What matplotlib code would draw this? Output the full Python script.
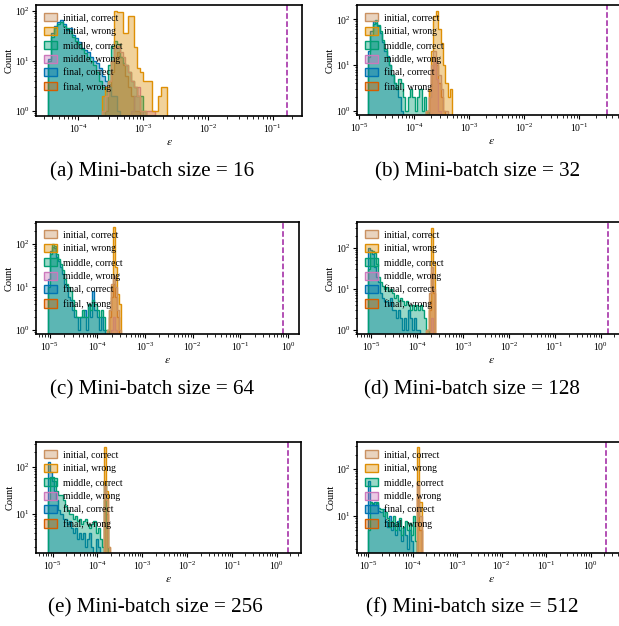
import numpy as np
import matplotlib.pyplot as plt
from matplotlib.patches import Patch

plt.rcParams['font.family'] = ['Liberation Serif', 'DejaVu Serif']
plt.rcParams['mathtext.fontset'] = 'stix'

labels = ['initial, correct', 'initial, wrong', 'middle, correct',
          'middle, wrong', 'final, correct', 'final, wrong']
colors = ['#ca9161', '#de8f05', '#029e73', '#cc78bc', '#0173b2', '#d55e00']
batch_sizes = [16, 32, 64, 128, 256, 512]

# log10 range of the bins and number of bins per panel
bin_lo = [-4.46, -4.84, -5.04, -5.07, -5.10, -5.00]
bin_hi = [-2.63, -3.31, -3.51, -3.62, -3.72, -3.80]
n_bins = [40, 36, 36, 33, 30, 26]

# dashed reference line per panel
ref_eps = [0.165, 0.32, 0.78, 1.44, 1.8, 2.2]

# (a) batch 16
a_init_correct = [0]*18 + [1, 2, 4, 10, 18, 20, 15, 12, 8, 6, 4, 3, 2, 1, 1] + [0]*7
a_init_wrong = [0]*18 + [2, 3, 4, 10, 100, 95, 95, 36, 36, 80, 80, 19, 7, 6, 4, 4, 4, 1, 1, 2, 3, 3]
a_mid_correct = [10, 30, 45, 55, 60, 50, 45, 40, 30, 25, 22, 17, 14, 12, 10, 8, 6, 4, 3, 3,
                 8, 20, 25, 22, 12, 9, 8, 6, 4, 3, 2, 2, 1] + [0]*7
a_mid_wrong = [0]*28 + [1, 2, 3, 1, 0, 1, 1, 1] + [0]*4
a_final_correct = [11, 35, 50, 60, 65, 55, 42, 45, 32, 28, 24, 18, 16, 15, 12, 10, 9, 7, 5, 4,
                   3, 2, 2, 1] + [0]*16
a_final_wrong = [0]*19 + [1, 3, 6, 12, 15, 12, 8, 5, 3, 2, 1, 1] + [0]*9

# (b) batch 32
b_init_correct = [0]*25 + [1, 2, 10, 20, 12, 6, 3, 1, 1] + [0]*2
b_init_wrong = [0]*25 + [1, 3, 20, 120, 150, 60, 30, 10, 4, 2, 3]
b_mid_correct = [15, 45, 80, 95, 75, 55, 35, 22, 15, 10, 6, 4, 3, 5, 4, 2, 1, 2, 3, 2,
                 1, 2, 3, 1, 2, 1] + [0]*10
b_mid_wrong = [0]*26 + [2, 8, 12, 5, 1] + [0]*5
b_final_correct = [20, 55, 90, 85, 70, 50, 32, 20, 16, 10, 6, 4, 3, 2, 1] + [0]*21
b_final_wrong = [0]*25 + [1, 3, 8, 15, 10, 4, 2, 1] + [0]*3

# (c) batch 64
c_init_correct = [0]*29 + [1, 3, 12, 18, 10, 3, 1]
c_init_wrong = [0]*29 + [1, 3, 10, 250, 30, 7, 4]
c_mid_correct = [10, 60, 100, 90, 60, 45, 35, 25, 15, 12, 10, 8, 5, 3, 2, 2, 2, 3, 2, 2,
                 4, 3, 5, 4, 3, 2, 3, 2, 1, 1] + [0]*6
c_mid_wrong = [0]*31 + [1, 2, 1] + [0]*2
c_final_correct = [15, 70, 85, 80, 50, 40, 30, 20, 12, 10, 6, 5, 3, 2, 2, 1, 2, 2, 3, 1,
                   4, 2, 8, 3, 2, 1, 2, 1] + [0]*8
c_final_wrong = [0]*30 + [2, 6, 12, 6, 2] + [0]

# (d) batch 128
d_init_correct = [0]*29 + [1, 8, 35, 10]
d_init_wrong = [0]*29 + [1, 5, 300, 45]
d_mid_correct = [30, 80, 85, 75, 40, 20, 15, 12, 10, 11, 9, 10, 8, 6, 7, 5, 6, 5, 4, 5,
                 4, 3, 4, 3, 4, 3, 4, 3, 2, 1] + [0]*3
d_mid_wrong = [0]*30 + [1, 2] + [0]
d_final_correct = [100, 90, 70, 35, 20, 15, 8, 6, 5, 5, 4, 6, 3, 3, 2, 3, 2, 1, 2, 1,
                   3, 2, 1, 2, 1, 1] + [0]*7
d_final_wrong = [0]*30 + [3, 25, 8]

# (e) batch 256
e_init_correct = [0]*26 + [1, 40, 20, 2]
e_init_wrong = [0]*26 + [1, 260, 30, 2]
e_mid_correct = [20, 60, 60, 50, 30, 25, 25, 20, 15, 12, 10, 10, 8, 9, 7, 8, 6, 7, 8, 6,
                 5, 6, 7, 4, 5, 3, 2, 45, 5] + [0]
e_mid_wrong = [0]*27 + [1] + [0]*2
e_final_correct = [125, 75, 50, 30, 20, 12, 10, 8, 8, 6, 7, 5, 4, 5, 3, 4, 3, 4, 2, 3,
                   4, 2, 1, 3, 2, 1] + [0]*4
e_final_wrong = [0]*27 + [20, 10] + [0]

# (f) batch 512
f_init_correct = [0]*23 + [1, 50, 10]
f_init_wrong = [0]*23 + [1, 290, 20]
f_mid_correct = [5, 20, 19, 17, 20, 15, 14, 10, 12, 9, 6, 8, 10, 5, 7, 9, 4, 6, 8, 5,
                 7, 4, 10, 3] + [0]*2
f_mid_wrong = [0]*24 + [1, 0]
f_final_correct = [55, 20, 18, 20, 19, 13, 12, 14, 8, 6, 10, 5, 7, 4, 8, 5, 3, 6, 4, 2,
                   5, 3, 1] + [0]*3
f_final_wrong = [0]*24 + [25, 5]

counts = [
    [a_init_correct, a_init_wrong, a_mid_correct, a_mid_wrong, a_final_correct, a_final_wrong],
    [b_init_correct, b_init_wrong, b_mid_correct, b_mid_wrong, b_final_correct, b_final_wrong],
    [c_init_correct, c_init_wrong, c_mid_correct, c_mid_wrong, c_final_correct, c_final_wrong],
    [d_init_correct, d_init_wrong, d_mid_correct, d_mid_wrong, d_final_correct, d_final_wrong],
    [e_init_correct, e_init_wrong, e_mid_correct, e_mid_wrong, e_final_correct, e_final_wrong],
    [f_init_correct, f_init_wrong, f_mid_correct, f_mid_wrong, f_final_correct, f_final_wrong],
]

# layout, in pixels of the 619x626 picture: left, top, right, bottom
W, H = 619, 626
boxes = [(36, 5, 302, 116), (357, 5, 625, 115),
         (36, 222, 299, 334), (357, 222, 625, 334),
         (36, 442, 301, 553), (357, 442, 625, 553)]
xlims = [(-4.65, -0.55), (-5.04, -0.17), (-5.29, 0.23),
         (-5.31, 0.53), (-5.37, 0.54), (-5.25, 0.77)]
ylims = [(0.78, 130), (0.82, 205), (0.81, 325), (0.8, 430), (1.5, 330), (1.65, 370)]
captions_y = [172, 172, 390, 390, 608, 608]
captions_x = [152, 478, 152, 472, 155, 472]

alpha = 0.4
fig = plt.figure(figsize=(W / 100, H / 100), dpi=100)

for k in range(6):
    l, t, r, b = boxes[k]
    ax = fig.add_axes([l / W, 1 - b / H, (r - l) / W, (b - t) / H])
    edges = np.logspace(bin_lo[k], bin_hi[k], n_bins[k] + 1)
    # later stages first, so the initial ones sit on top
    for vals, col in list(zip(counts[k], colors))[::-1]:
        v = np.array(vals, dtype=float)
        nz = np.nonzero(v)[0]
        if len(nz) == 0:
            continue
        i0, i1 = nz[0], nz[-1] + 1
        v = np.where(v[i0:i1] > 0, v[i0:i1], 0.01)
        ax.stairs(v, edges[i0:i1 + 1], fill=True, baseline=0.01,
                  facecolor=(col, alpha), edgecolor=col, linewidth=1.0)
    ax.axvline(ref_eps[k], color='#9e1fa0', ls='--', lw=1.1)
    ax.set_xscale('log')
    ax.set_yscale('log')
    ax.set_xlim(10 ** xlims[k][0], 10 ** xlims[k][1])
    ax.set_ylim(*ylims[k])
    ax.set_xlabel(r'$\varepsilon$', fontsize=8.5, labelpad=1)
    ax.set_ylabel('Count', fontsize=7.5, labelpad=0.5)
    ax.tick_params(labelsize=7, length=3, width=0.8, pad=1.5)
    ax.tick_params(which='minor', length=1.8, width=0.6)
    for s in ax.spines.values():
        s.set_linewidth(1.2)
    handles = [Patch(facecolor=(c, alpha), edgecolor=c, linewidth=1.0) for c in colors]
    ax.legend(handles, labels, loc='upper left', frameon=False, fontsize=7,
              handlelength=1.3, handleheight=0.9, handletextpad=0.6,
              labelspacing=0.45, borderaxespad=0.45)
    fig.text(captions_x[k] / W, 1 - captions_y[k] / H,
             '(%s) Mini-batch size = %d' % ('abcdef'[k], batch_sizes[k]),
             ha='center', va='center', fontsize=15.2)

fig.savefig('out.png', dpi=100)
